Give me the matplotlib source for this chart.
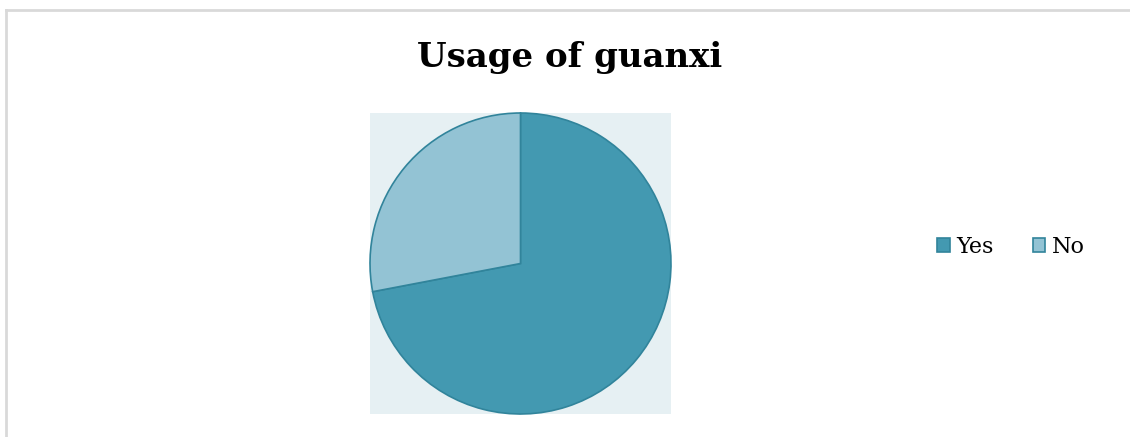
import matplotlib
matplotlib.use('Agg')
import matplotlib.pyplot as plt
from matplotlib.patches import Patch
from matplotlib.lines import Line2D

labels = ['Yes', 'No']
shares = [72, 28]
colors = ['#4399b1', '#93c3d4']

plt.rcParams['font.family'] = ['DejaVu Serif']

fig = plt.figure(figsize=(11.3, 4.37), dpi=100)

# thin grey frame along the top and left edge
fig.add_artist(Line2D([6/1130, 1], [1 - 9.5/437, 1 - 9.5/437], transform=fig.transFigure,
                      color='#d9d9d9', linewidth=2))
fig.add_artist(Line2D([6/1130, 6/1130], [0, 1 - 9.5/437], transform=fig.transFigure,
                      color='#d9d9d9', linewidth=2))

ax = fig.add_axes([370/1130, 23/437, 301/1130, 301/437])
ax.pie(shares, colors=colors, startangle=90, counterclock=False, radius=1,
       wedgeprops=dict(edgecolor='#31849b', linewidth=1.2))
ax.set_xlim(-1.0, 1.0)
ax.set_ylim(-1.0, 1.0)
ax.set_aspect('equal')
ax.set_frame_on(True)
ax.patch.set_facecolor('#e6f0f3')
ax.set_xticks([])
ax.set_yticks([])
for s in ax.spines.values():
    s.set_visible(False)

fig.text(570/1130, 1 - 57/437, 'Usage of guanxi', ha='center', va='center',
         fontsize=24.5, fontweight='bold')

handles = [Patch(facecolor=c, edgecolor='#31849b', linewidth=1.2) for c in colors]
fig.legend(handles, labels, loc='center', bbox_to_anchor=(1011/1130, 1 - 247/437),
           ncol=2, frameon=False, fontsize=16, handlelength=0.55, handleheight=0.55,
           handletextpad=0.3, columnspacing=1.75)

fig.savefig('out.png', dpi=100, facecolor='white')
